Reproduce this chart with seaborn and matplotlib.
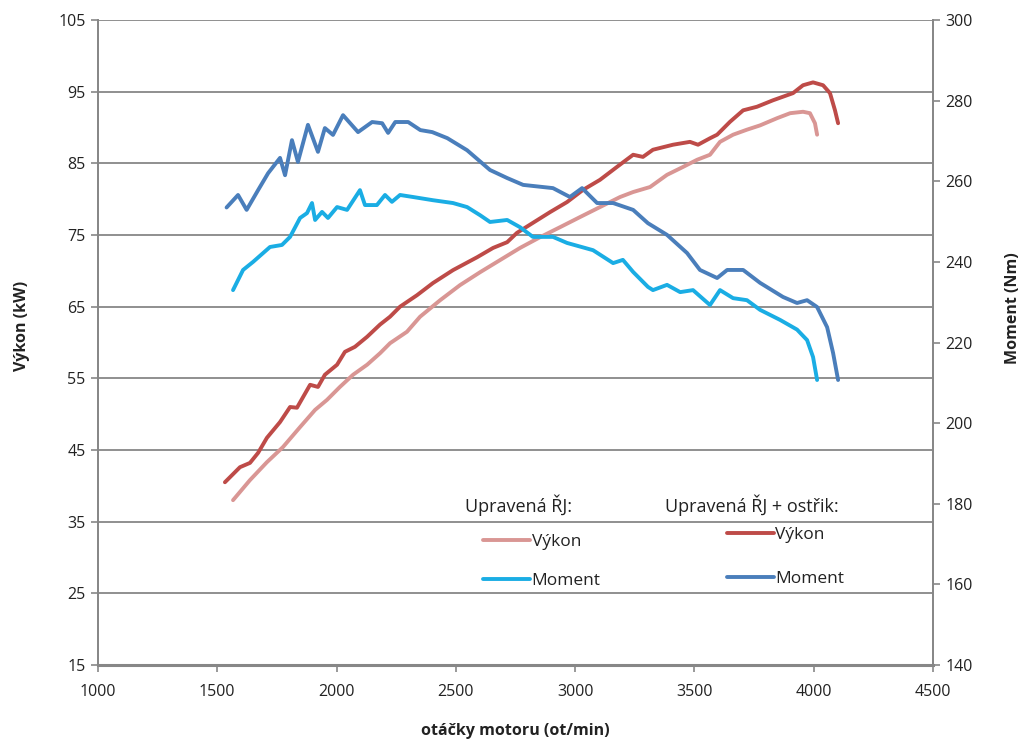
import matplotlib
matplotlib.use("Agg")
import matplotlib.pyplot as plt
import seaborn as sns
import pandas as pd
from matplotlib.lines import Line2D

# ---------------- data ----------------
rpm_p1 = [1566, 1637, 1708, 1775, 1847, 1910, 1960, 2014, 2069, 2128, 2182, 2224, 2295, 2350,
          2434, 2517, 2601, 2685, 2769, 2853, 2937, 3020, 3104, 3188, 3243, 3314, 3385, 3452,
          3511, 3565, 3607, 3662, 3720, 3775, 3846, 3901, 3955, 3984, 4005, 4014]
vykon_p1 = [38.0, 40.8, 43.3, 45.4, 48.2, 50.6, 52.0, 53.8, 55.5, 56.9, 58.5, 59.9, 61.5, 63.6,
            65.9, 68.0, 69.8, 71.5, 73.2, 74.7, 76.1, 77.5, 78.9, 80.3, 81.0, 81.7, 83.4, 84.5,
            85.5, 86.2, 88.0, 89.0, 89.7, 90.3, 91.3, 92.0, 92.2, 92.0, 90.6, 89.0]

rpm_p2 = [1532, 1595, 1637, 1671, 1708, 1763, 1805, 1834, 1889, 1922, 1951, 2002, 2035, 2077,
          2128, 2182, 2224, 2266, 2337, 2404, 2488, 2589, 2656, 2715, 2756, 2823, 2895, 2966,
          3033, 3104, 3175, 3243, 3284, 3326, 3410, 3481, 3515, 3565, 3595, 3649, 3704, 3762,
          3829, 3913, 3955, 3997, 4039, 4068, 4089, 4102]
vykon_p2 = [40.5, 42.6, 43.2, 44.6, 46.7, 48.9, 51.0, 50.9, 54.1, 53.8, 55.5, 56.9, 58.7, 59.4,
            60.8, 62.5, 63.6, 65.0, 66.6, 68.3, 70.1, 71.9, 73.2, 74.0, 75.3, 76.7, 78.2, 79.6,
            81.3, 82.7, 84.5, 86.2, 85.9, 86.9, 87.6, 88.0, 87.6, 88.5, 89.0, 90.8, 92.4, 92.9,
            93.8, 94.8, 95.9, 96.3, 95.9, 94.8, 92.4, 90.6]

rpm_m1 = [1566, 1608, 1650, 1721, 1771, 1805, 1847, 1876, 1897, 1910, 1939, 1964, 2002, 2044,
          2098, 2119, 2169, 2203, 2232, 2266, 2320, 2404, 2488, 2547, 2601, 2643, 2715, 2769,
          2823, 2907, 2966, 3075, 3159, 3200, 3243, 3305, 3326, 3385, 3440, 3494, 3565, 3607,
          3662, 3720, 3775, 3859, 3930, 3972, 3997, 4014]
moment_m1 = [233.0, 238.0, 240.0, 243.7, 244.2, 246.2, 250.9, 252.1, 254.6, 250.4, 252.4, 250.9,
             253.6, 252.9, 257.8, 254.1, 254.1, 256.6, 254.9, 256.6, 256.1, 255.3, 254.6, 253.6,
             251.6, 249.9, 250.4, 248.6, 246.2, 246.2, 244.7, 242.9, 239.7, 240.5, 237.5, 233.8,
             233.0, 234.3, 232.5, 233.0, 229.3, 233.0, 231.0, 230.5, 228.1, 225.6, 223.2, 220.6,
             216.4, 210.7]

rpm_m2 = [1539, 1587, 1623, 1671, 1713, 1763, 1784, 1813, 1838, 1880, 1922, 1951, 1985, 2027,
          2090, 2149, 2191, 2216, 2246, 2300, 2351, 2401, 2464, 2547, 2643, 2715, 2782, 2907,
          2978, 3029, 3092, 3159, 3243, 3305, 3385, 3469, 3523, 3595, 3637, 3704, 3775, 3871,
          3930, 3972, 4014, 4056, 4081, 4102]
moment_m2 = [253.5, 256.6, 252.9, 257.8, 262.0, 265.8, 261.5, 270.2, 264.8, 274.0, 267.3, 273.2,
             271.5, 276.4, 272.2, 274.7, 274.4, 272.0, 274.7, 274.7, 272.7, 272.2, 270.7, 267.7,
             262.8, 260.8, 259.1, 258.3, 256.1, 258.3, 254.6, 254.6, 252.9, 249.6, 246.7, 242.2,
             238.0, 236.0, 238.0, 238.0, 234.8, 231.3, 229.8, 230.5, 228.8, 223.8, 217.4, 210.7]

left_ticks = [15, 25, 35, 45, 55, 65, 75, 85, 95, 105]
right_ticks = [140, 160, 180, 200, 220, 240, 260, 280, 300]
x_ticks = [1000, 1500, 2000, 2500, 3000, 3500, 4000, 4500]

# ---------------- style ----------------
sns.set_theme(style="white")
plt.rcParams['font.family'] = ['Open Sans', 'DejaVu Sans']

c_p1 = "#D99694"
c_p2 = "#BE4B48"
c_m1 = "#1AADE4"
c_m2 = "#4A7EBB"
grid_c = "#878787"
txt_c = "#222222"
lw = 2.8

fig = plt.figure(figsize=(10.25, 7.42), dpi=100)
ax = fig.add_axes([0.0956, 0.1038, 0.8147, 0.8692])
ax2 = ax.twinx()

df_p1 = pd.DataFrame({"rpm": rpm_p1, "v": vykon_p1})
df_p2 = pd.DataFrame({"rpm": rpm_p2, "v": vykon_p2})
df_m1 = pd.DataFrame({"rpm": rpm_m1, "m": moment_m1})
df_m2 = pd.DataFrame({"rpm": rpm_m2, "m": moment_m2})

sns.lineplot(data=df_p1, x="rpm", y="v", ax=ax, color=c_p1, lw=lw, sort=False, zorder=3)
sns.lineplot(data=df_p2, x="rpm", y="v", ax=ax, color=c_p2, lw=lw, sort=False, zorder=3)
sns.lineplot(data=df_m1, x="rpm", y="m", ax=ax2, color=c_m1, lw=lw, sort=False, zorder=3)
sns.lineplot(data=df_m2, x="rpm", y="m", ax=ax2, color=c_m2, lw=lw, sort=False, zorder=3)

ax.set_xlim(1000, 4500)
ax.set_ylim(15, 105)
ax2.set_ylim(140, 300)
ax.set_xticks(x_ticks)
ax.set_yticks(left_ticks)
ax2.set_yticks(right_ticks)

ax.yaxis.grid(True, color=grid_c, lw=1.3)
ax.xaxis.grid(False)
ax2.grid(False)
ax.set_axisbelow(True)

for a in (ax, ax2):
    a.spines["top"].set_visible(False)
    for s in ("left", "right", "bottom"):
        a.spines[s].set_color(grid_c)
        a.spines[s].set_linewidth(1.3)
ax.spines["bottom"].set_linewidth(2.2)
ax2.spines["bottom"].set_visible(False)

ax.tick_params(axis="both", which="major", direction="out", length=5, width=1.2,
               color=grid_c, labelsize=11.5, labelcolor=txt_c, pad=4)
ax.tick_params(axis="x", pad=9, bottom=True)
ax.tick_params(axis="y", left=True)
ax2.tick_params(axis="y", direction="out", length=5, width=1.2, color=grid_c,
                labelsize=11.5, labelcolor=txt_c, right=True, pad=4)

ax.set_xlabel("otáčky motoru (ot/min)", fontsize=11.5, fontweight="bold", labelpad=16,
              color=txt_c)
ax.set_ylabel("Výkon (kW)", fontsize=11.5, fontweight="bold", labelpad=20, color=txt_c)
ax2.set_ylabel("Moment (Nm)", fontsize=11.5, fontweight="bold", labelpad=23, color=txt_c)
ax.yaxis.label.set_y(0.526)
ax2.yaxis.label.set_y(0.553)

# ---------------- legends ----------------
ax2.text(0.44, 0.248, "Upravená ŘJ:", transform=ax2.transAxes, fontsize=13,
         va="center", ha="left", color=txt_c)
ax2.text(0.679, 0.248, "Upravená ŘJ + ostřik:", transform=ax2.transAxes, fontsize=13,
         va="center", ha="left", color=txt_c)

h1 = [Line2D([], [], color=c_p1, lw=lw), Line2D([], [], color=c_m1, lw=lw)]
h2 = [Line2D([], [], color=c_p2, lw=lw), Line2D([], [], color=c_m2, lw=lw)]
leg1 = ax2.legend(h1, ["Výkon", "Moment"], frameon=False,
                  loc="upper left", bbox_to_anchor=(0.461, 0.203), fontsize=12.5,
                  handlelength=2.7, handletextpad=0.1, labelspacing=1.33, borderpad=0,
                  borderaxespad=0)
ax2.add_artist(leg1)
leg2 = ax2.legend(h2, ["Výkon", "Moment"], frameon=False,
                  loc="upper left", bbox_to_anchor=(0.753, 0.214), fontsize=12.5,
                  handlelength=2.7, handletextpad=0.1, labelspacing=1.62, borderpad=0,
                  borderaxespad=0)
for leg in (leg1, leg2):
    for t in leg.get_texts():
        t.set_color(txt_c)

fig.savefig("out.png", dpi=100, facecolor="white")
